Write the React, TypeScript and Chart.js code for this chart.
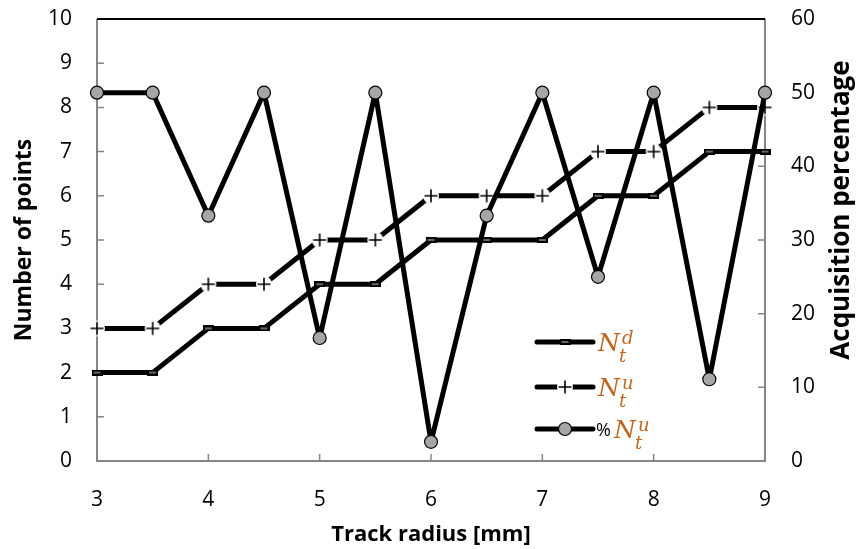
import React, { useEffect, useRef } from "react";
import { Chart, registerables } from "chart.js";

Chart.register(...registerables);

// ---- data ----
const radius = [3, 3.5, 4, 4.5, 5, 5.5, 6, 6.5, 7, 7.5, 8, 8.5, 9];
const ntd = [2, 2, 3, 3, 4, 4, 5, 5, 5, 6, 6, 7, 7];
const ntu = [3, 3, 4, 4, 5, 5, 6, 6, 6, 7, 7, 8, 8];
const pctNtu = [50, 50, 33.3, 50, 16.7, 50, 2.6, 33.3, 50, 25, 50, 11.1, 50];

const xRange = [3, 9];
const leftRange = [0, 10];
const rightRange = [0, 60];
const xStep = 1;
const leftStep = 1;
const rightStep = 10;

const xTitle = "Track radius [mm]";
const leftTitle = "Number of points";
const rightTitle = "Acquisition percentage";

const FONT = '"Open Sans", "Noto Sans", sans-serif';
const AXIS_GRAY = "#868686";
const LEGEND_COLOR = "#c0661e";

function makeDashMarker(): HTMLCanvasElement {
  const c = document.createElement("canvas");
  c.width = 11;
  c.height = 6;
  const g = c.getContext("2d")!;
  g.fillStyle = "#000";
  g.fillRect(0, 0, 11, 6);
  g.fillStyle = "#d0d0d0";
  g.fillRect(2, 2.5, 7, 1);
  return c;
}

function makePlusMarker(): HTMLCanvasElement {
  const c = document.createElement("canvas");
  c.width = 18;
  c.height = 18;
  const g = c.getContext("2d")!;
  g.fillStyle = "#fff";
  g.beginPath();
  g.arc(9, 9, 8, 0, Math.PI * 2);
  g.fill();
  g.strokeStyle = "#000";
  g.lineWidth = 1.6;
  g.beginPath();
  g.moveTo(2.5, 9);
  g.lineTo(15.5, 9);
  g.moveTo(9, 2.5);
  g.lineTo(9, 15.5);
  g.stroke();
  return c;
}

function drawN(ctx: CanvasRenderingContext2D, x: number, y: number, sup: string) {
  ctx.fillStyle = LEGEND_COLOR;
  ctx.textBaseline = "alphabetic";
  ctx.textAlign = "left";
  ctx.font = 'italic 25px "DejaVu Serif", serif';
  ctx.fillText("N", x, y + 9);
  const w = ctx.measureText("N").width;
  ctx.font = 'italic 18px "DejaVu Serif", serif';
  ctx.fillText("t", x + w - 1, y + 20);
  ctx.fillText(sup, x + w + 2, y + 2);
}

function makeFramePlugin(dash: HTMLCanvasElement, plus: HTMLCanvasElement) {
  return {
    id: "frame",
    beforeDatasetsDraw(chart: any) {
      const { ctx, chartArea: a, scales } = chart;
      ctx.save();
      ctx.strokeStyle = AXIS_GRAY;
      ctx.lineWidth = 1.5;
      ctx.beginPath();
      for (let v = xRange[0]; v <= xRange[1]; v += xStep) {
        const px = scales.x.getPixelForValue(v);
        ctx.moveTo(px, a.bottom);
        ctx.lineTo(px, a.bottom - 7);
      }
      for (let v = leftRange[0]; v <= leftRange[1]; v += leftStep) {
        const py = scales.y.getPixelForValue(v);
        ctx.moveTo(a.left, py);
        ctx.lineTo(a.left + 7, py);
      }
      for (let v = rightRange[0]; v <= rightRange[1]; v += rightStep) {
        const py = scales.y2.getPixelForValue(v);
        ctx.moveTo(a.right, py);
        ctx.lineTo(a.right - 7, py);
      }
      ctx.stroke();
      ctx.lineWidth = 2;
      ctx.beginPath();
      ctx.moveTo(a.left, a.top);
      ctx.lineTo(a.left, a.bottom);
      ctx.lineTo(a.right, a.bottom);
      ctx.lineTo(a.right, a.top);
      ctx.stroke();
      ctx.strokeStyle = "#000";
      ctx.beginPath();
      ctx.moveTo(a.left, a.top);
      ctx.lineTo(a.right, a.top);
      ctx.stroke();
      ctx.restore();
    },
    afterDraw(chart: any) {
      const { ctx, chartArea: a } = chart;
      ctx.save();
      // right axis title (reads bottom-to-top)
      ctx.save();
      ctx.translate(a.right + 77, a.top + 191);
      ctx.rotate(-Math.PI / 2);
      ctx.fillStyle = "#000";
      ctx.font = `bold 26px ${FONT}`;
      ctx.textAlign = "center";
      ctx.textBaseline = "middle";
      ctx.fillText(rightTitle, 0, 0);
      ctx.restore();

      const x0 = a.right - 228;
      const x1 = x0 + 56;
      const xm = (x0 + x1) / 2;
      const rows = [a.bottom - 119, a.bottom - 74, a.bottom - 32];
      ctx.strokeStyle = "#000";
      ctx.lineWidth = 5;
      ctx.lineCap = "round";
      ctx.beginPath();
      ctx.moveTo(x0, rows[0]);
      ctx.lineTo(x1, rows[0]);
      ctx.stroke();
      ctx.drawImage(dash, xm - 5.5, rows[0] - 3);
      drawN(ctx, x1 + 5, rows[0], "d");

      ctx.beginPath();
      ctx.moveTo(x0, rows[1]);
      ctx.lineTo(x1, rows[1]);
      ctx.stroke();
      ctx.drawImage(plus, xm - 9, rows[1] - 9);
      drawN(ctx, x1 + 5, rows[1], "u");

      ctx.beginPath();
      ctx.moveTo(x0, rows[2]);
      ctx.lineTo(x1, rows[2]);
      ctx.stroke();
      ctx.fillStyle = "#a6a6a6";
      ctx.lineWidth = 1.2;
      ctx.beginPath();
      ctx.arc(xm, rows[2], 6.5, 0, Math.PI * 2);
      ctx.fill();
      ctx.stroke();
      ctx.fillStyle = "#000";
      ctx.font = `18px ${FONT}`;
      ctx.textBaseline = "alphabetic";
      ctx.textAlign = "left";
      ctx.fillText("%", x1 + 3, rows[2] + 7);
      drawN(ctx, x1 + 21, rows[2], "u");
      ctx.restore();
    },
  };
}

export default function App() {
  const ref = useRef<HTMLCanvasElement>(null);

  useEffect(() => {
    if (!ref.current) return;
    const dashMarker = makeDashMarker();
    const plusMarker = makePlusMarker();
    const pts = (ys: number[]) => radius.map((x, i) => ({ x, y: ys[i] }));

    const chart = new Chart(ref.current, {
      type: "line",
      data: {
        datasets: [
          {
            label: "% Ntu",
            data: pts(pctNtu),
            yAxisID: "y2",
            borderColor: "#000",
            borderWidth: 5,
            pointRadius: 6.5,
            pointBackgroundColor: "#a6a6a6",
            pointBorderColor: "#000",
            pointBorderWidth: 1.2,
            borderJoinStyle: "round",
            tension: 0,
            clip: false,
            order: 0,
          },
          {
            label: "Ntu",
            data: pts(ntu),
            yAxisID: "y",
            borderColor: "#000",
            borderWidth: 5,
            pointStyle: plusMarker,
            pointRadius: 9,
            borderJoinStyle: "round",
            tension: 0,
            clip: false,
            order: 1,
          },
          {
            label: "Ntd",
            data: pts(ntd),
            yAxisID: "y",
            borderColor: "#000",
            borderWidth: 5,
            pointStyle: dashMarker,
            pointRadius: 5,
            borderJoinStyle: "round",
            tension: 0,
            clip: false,
            order: 2,
          },
        ],
      },
      options: {
        animation: false,
        responsive: false,
        maintainAspectRatio: false,
        layout: { padding: { top: 19, left: 0, right: 0, bottom: 0 } },
        plugins: {
          legend: { display: false },
          tooltip: { enabled: false },
        },
        scales: {
          x: {
            type: "linear",
            min: xRange[0],
            max: xRange[1],
            ticks: { stepSize: xStep, color: "#000", font: { family: FONT, size: 21 }, padding: 18, maxRotation: 0 },
            grid: { display: false },
            border: { display: false },
            title: { display: true, text: xTitle, color: "#000", font: { family: FONT, size: 22, weight: "bold" }, padding: { top: 0, bottom: 1 } },
            afterFit: (s: any) => { s.height = 88; s.paddingLeft = 0; s.paddingRight = 0; },
          },
          y: {
            type: "linear",
            position: "left",
            min: leftRange[0],
            max: leftRange[1],
            ticks: { stepSize: leftStep, color: "#000", font: { family: FONT, size: 21 }, padding: 17 },
            grid: { display: false },
            border: { display: false },
            title: { display: true, text: leftTitle, color: "#000", font: { family: FONT, size: 23, weight: "bold" }, padding: { top: 11, bottom: 0 } },
            afterFit: (s: any) => { s.width = 97; s.paddingTop = 0; s.paddingBottom = 0; },
          },
          y2: {
            type: "linear",
            position: "right",
            min: rightRange[0],
            max: rightRange[1],
            ticks: { stepSize: rightStep, color: "#000", font: { family: FONT, size: 21 }, padding: 18 },
            grid: { display: false },
            border: { display: false },
            title: { display: false },
            afterFit: (s: any) => { s.width = 91; s.paddingTop = 0; s.paddingBottom = 0; },
          },
        },
      },
      plugins: [makeFramePlugin(dashMarker, plusMarker)],
    } as any);
    return () => chart.destroy();
  }, []);

  return (
    <div style={{ position: "absolute", left: 0, top: 0, width: 856, height: 549, background: "#fff" }}>
      <canvas ref={ref} width={856} height={549} style={{ display: "block" }} />
    </div>
  );
}
